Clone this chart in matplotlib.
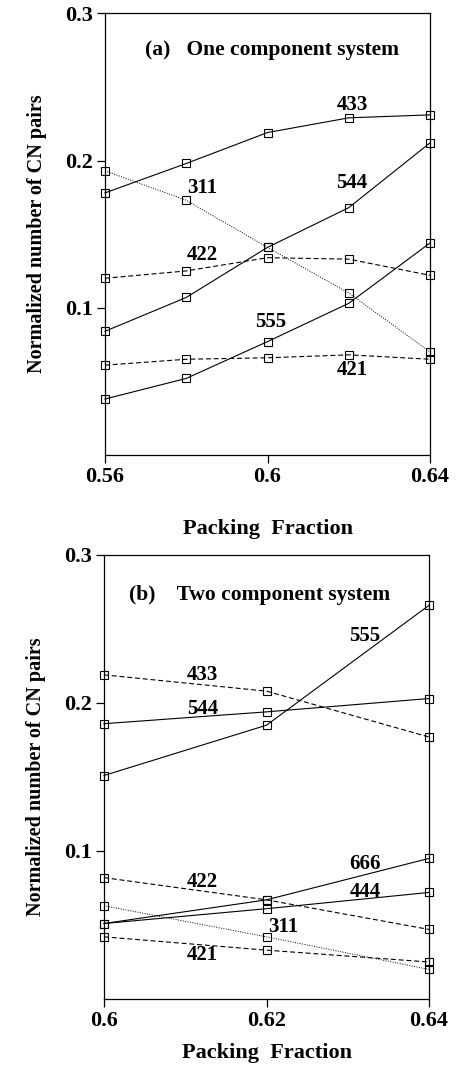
import matplotlib
matplotlib.use("Agg")
import matplotlib.pyplot as plt

# (a) one component system
pf_a = [0.56, 0.58, 0.60, 0.62, 0.64]
a_433 = [0.178, 0.198, 0.219, 0.229, 0.231]
a_311 = [0.193, 0.173, 0.141, 0.110, 0.070]
a_544 = [0.084, 0.107, 0.141, 0.168, 0.212]
a_422 = [0.120, 0.125, 0.134, 0.133, 0.122]
a_555 = [0.038, 0.052, 0.077, 0.103, 0.144]
a_421 = [0.061, 0.065, 0.066, 0.068, 0.065]

# (b) two component system
pf_b = [0.60, 0.62, 0.64]
b_433 = [0.219, 0.208, 0.177]
b_544 = [0.186, 0.194, 0.203]
b_555 = [0.151, 0.185, 0.266]
b_422 = [0.082, 0.067, 0.047]
b_666 = [0.051, 0.067, 0.095]
b_444 = [0.051, 0.061, 0.072]
b_311 = [0.063, 0.042, 0.020]
b_421 = [0.042, 0.033, 0.025]

plt.rcParams['font.family'] = ['Liberation Serif', 'DejaVu Serif']
plt.rcParams['font.weight'] = 'bold'

SOLID = '-'
DASH = (0, (4.5, 2.5))
DOT = (0, (1, 1.5))

series_a = [
    (a_433, SOLID, "433", 0.6208, 0.2376),
    (a_311, DOT, "311", 0.5839, 0.181),
    (a_544, SOLID, "544", 0.6208, 0.1846),
    (a_422, DASH, "422", 0.5839, 0.1356),
    (a_555, SOLID, "555", 0.6009, 0.090),
    (a_421, DASH, "421", 0.6208, 0.0574),
]
series_b = [
    (b_433, DASH, "433", 0.6121, 0.219),
    (b_544, SOLID, "544", 0.6121, 0.196),
    (b_555, SOLID, "555", 0.6321, 0.245),
    (b_422, DASH, "422", 0.6121, 0.079),
    (b_666, SOLID, "666", 0.6321, 0.091),
    (b_444, SOLID, "444", 0.6321, 0.0725),
    (b_311, DOT, "311", 0.6220, 0.0485),
    (b_421, DASH, "421", 0.6121, 0.030),
]

fig = plt.figure(figsize=(4.57, 10.72), dpi=100)
ax_a = fig.add_axes([0.2298, 0.5756, 0.7112, 0.4120])
ax_b = fig.add_axes([0.2276, 0.0681, 0.7112, 0.4142])


def draw(ax, x, series, xlim, xticks, xticklabels, title, title_xy, xlabel_y):
    for y, ls, lab, tx, ty in series:
        lw = 0.7 if ls == DOT else 0.8
        ax.plot(x, y, linestyle=ls, color='black', linewidth=lw, marker='s',
                markersize=5.5, markerfacecolor='none', markeredgecolor='black',
                markeredgewidth=0.8, clip_on=False)
        ax.text(tx, ty, lab, fontsize=15, fontweight='bold', ha='center', va='center')
    ax.text(title_xy[0], title_xy[1], title, fontsize=15.5, fontweight='bold',
            ha='center', va='center')
    ax.set_xlim(*xlim)
    ax.set_ylim(0.0, 0.3)
    ax.set_xticks(xticks)
    ax.set_xticklabels(xticklabels)
    ax.set_yticks([0.1, 0.2, 0.3])
    ax.set_yticklabels(["0.1", "0.2", "0.3"])
    ax.tick_params(direction='out', length=6, width=0.9, labelsize=16, pad=3)
    for lab in ax.get_xticklabels() + ax.get_yticklabels():
        lab.set_fontweight('bold')
    for sp in ax.spines.values():
        sp.set_linewidth(0.9)
    ax.set_xlabel("Packing  Fraction", fontsize=16, fontweight='bold')
    ax.set_ylabel("Normalized number of CN pairs", fontsize=14.5, fontweight='bold')
    ax.xaxis.set_label_coords(0.5, xlabel_y)
    ax.yaxis.set_label_coords(-0.178, 0.5)


draw(ax_a, pf_a, series_a, (0.56, 0.64), [0.56, 0.60, 0.64], ["0.56", "0.6", "0.64"],
     "(a)   One component system", (0.601, 0.275), -0.144)
draw(ax_b, pf_b, series_b, (0.60, 0.64), [0.60, 0.62, 0.64], ["0.6", "0.62", "0.64"],
     "(b)    Two component system", (0.6191, 0.273), -0.100)

fig.savefig("out.png", dpi=100)
